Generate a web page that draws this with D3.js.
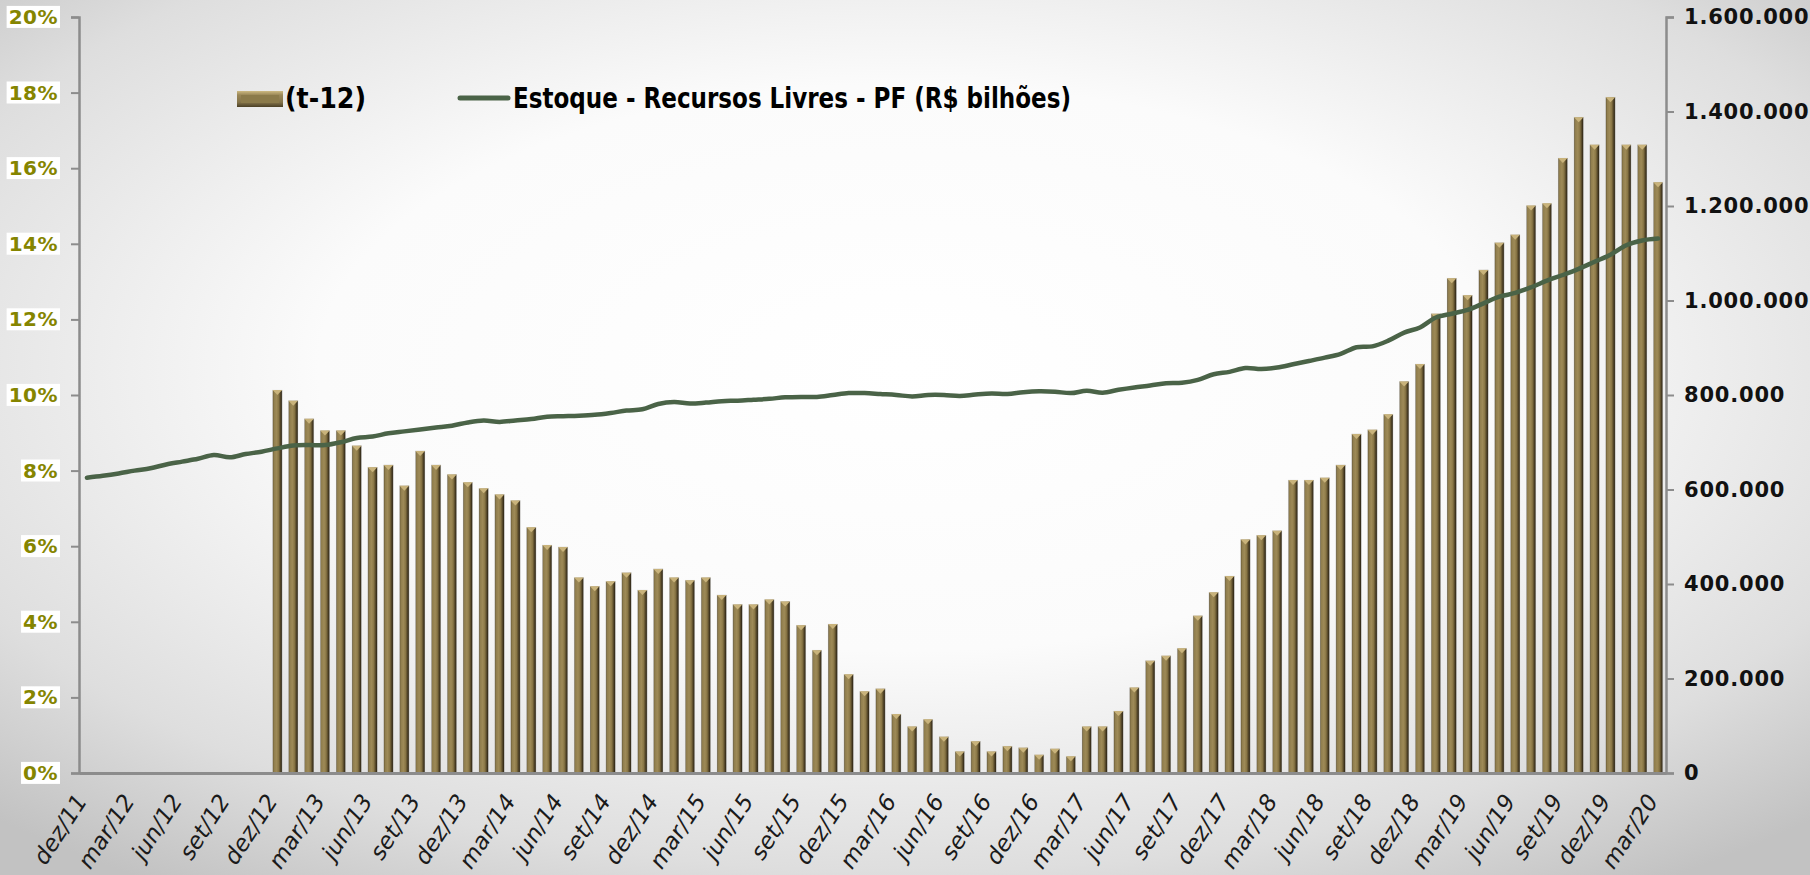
<!DOCTYPE html>
<html>
<head>
<meta charset="utf-8">
<script src="https://cdn.jsdelivr.net/npm/d3@7"></script>
<style>
  body { margin: 0; overflow: hidden; background: #fff; }
  svg { display: block; }
</style>
</head>
<body>
<svg id="chart" width="1810" height="875"></svg>
<script>

// months dez/11 .. mar/20
const categories = [
    'dez/11',
    'jan/12','fev/12','mar/12','abr/12','mai/12','jun/12','jul/12','ago/12','set/12','out/12','nov/12','dez/12',
    'jan/13','fev/13','mar/13','abr/13','mai/13','jun/13','jul/13','ago/13','set/13','out/13','nov/13','dez/13',
    'jan/14','fev/14','mar/14','abr/14','mai/14','jun/14','jul/14','ago/14','set/14','out/14','nov/14','dez/14',
    'jan/15','fev/15','mar/15','abr/15','mai/15','jun/15','jul/15','ago/15','set/15','out/15','nov/15','dez/15',
    'jan/16','fev/16','mar/16','abr/16','mai/16','jun/16','jul/16','ago/16','set/16','out/16','nov/16','dez/16',
    'jan/17','fev/17','mar/17','abr/17','mai/17','jun/17','jul/17','ago/17','set/17','out/17','nov/17','dez/17',
    'jan/18','fev/18','mar/18','abr/18','mai/18','jun/18','jul/18','ago/18','set/18','out/18','nov/18','dez/18',
    'jan/19','fev/19','mar/19','abr/19','mai/19','jun/19','jul/19','ago/19','set/19','out/19','nov/19','dez/19',
    'jan/20','fev/20','mar/20'
];

// (t-12) growth, % - no data before dez/12
const growth = [
    null, null, null, null, null, null, null, null, null, null, null, null,
    10.13, 9.85, 9.37, 9.06, 9.06, 8.66, 8.09, 8.15, 7.60, 8.52, 8.15, 7.90, 7.69,
    7.53, 7.37, 7.21, 6.50, 6.03, 5.98, 5.17, 4.94, 5.07, 5.30, 4.84, 5.40,
    5.17, 5.10, 5.17, 4.71, 4.46, 4.46, 4.59, 4.54, 3.91, 3.25, 3.94, 2.61,
    2.16, 2.23, 1.56, 1.23, 1.42, 0.96, 0.57, 0.84, 0.57, 0.71, 0.67, 0.48,
    0.64, 0.44, 1.23, 1.23, 1.64, 2.26, 2.97, 3.10, 3.30, 4.16, 4.78, 5.21,
    6.18, 6.29, 6.41, 7.75, 7.75, 7.81, 8.15, 8.97, 9.08, 9.49, 10.36, 10.82,
    12.15, 13.09, 12.64, 13.31, 14.03, 14.24, 15.01, 15.07, 16.27, 17.35, 16.62, 17.88,
    16.62, 16.62, 15.63
];

// Estoque - Recursos Livres - PF
const stock = [
    625000,
    629000, 634000, 640000, 645000, 653000, 659000, 665000, 673000, 668000, 675000, 680000, 687000,
    693000, 694000, 694000, 700000, 709000, 712000, 719000, 723000, 727000, 731000, 735000, 742000,
    746000, 743000, 746000, 749000, 754000, 755000, 756000, 758000, 762000, 767000, 770000, 781000,
    785000, 782000, 784000, 787000, 788000, 790000, 792000, 795000, 796000, 796000, 800000, 804000,
    804000, 802000, 800000, 797000, 800000, 800000, 798000, 801000, 803000, 802000, 806000, 808000,
    807000, 804000, 809000, 805000, 811000, 816000, 820000, 825000, 826000, 832000, 844000, 849000,
    857000, 855000, 858000, 865000, 872000, 879000, 887000, 901000, 903000, 915000, 932000, 943000,
    964000, 972000, 980000, 994000, 1008000, 1016000, 1028000, 1042000, 1054000, 1067000, 1082000, 1097000,
    1117000, 1127000, 1131000
];

const pctTicks = [0, 2, 4, 6, 8, 10, 12, 14, 16, 18, 20];
const stockTicks = [0, 200000, 400000, 600000, 800000, 1000000, 1200000, 1400000, 1600000];
const legendLabels = ['(t-12)', 'Estoque - Recursos Livres - PF (R$ bilhões)'];

const plot = {left: 79, right: 1666, top: 17, bottom: 773};
const barColor = '#8b7a4a';
const lineColor = '#4a6347';
const axisColor = '#8c8c8c';
const tickFont = "'Century Gothic', 'DejaVu Sans', sans-serif";

const svg = d3.select('#chart');
const defs = svg.append('defs');

// background
const bg = defs.append('radialGradient').attr('id', 'bg')
    .attr('cx', '50%').attr('cy', '42%').attr('r', '72%');
bg.append('stop').attr('offset', '0%').attr('stop-color', '#ffffff');
bg.append('stop').attr('offset', '45%').attr('stop-color', '#fbfbfb');
bg.append('stop').attr('offset', '80%').attr('stop-color', '#dedede');
bg.append('stop').attr('offset', '100%').attr('stop-color', '#c2c2c2');
svg.append('rect').attr('width', 1810).attr('height', 875).attr('fill', 'url(#bg)');

// bar shading, a column lit from the left
const barGrad = defs.append('linearGradient').attr('id', 'barGrad')
    .attr('x1', '0%').attr('x2', '100%').attr('y1', '0%').attr('y2', '0%');
[['0%', '#4b3f25'], ['12%', '#8f7d4d'], ['40%', '#9e8a57'], ['62%', '#8a7746'],
 ['78%', '#5e4f2d'], ['90%', '#3a301c'], ['100%', '#2b2415']].forEach(function (s) {
    barGrad.append('stop').attr('offset', s[0]).attr('stop-color', s[1]);
});
const swatchGrad = defs.append('linearGradient').attr('id', 'swatchGrad')
    .attr('x1', '0%').attr('x2', '0%').attr('y1', '0%').attr('y2', '100%');
[['0%', '#cdb981'], ['25%', '#9a8757'], ['70%', '#85744a'], ['100%', '#4a3f25']].forEach(function (s) {
    swatchGrad.append('stop').attr('offset', s[0]).attr('stop-color', s[1]);
});

const x = d3.scaleBand().domain(categories).range([plot.left, plot.right]).padding(0);
const yL = d3.scaleLinear().domain([0, 20]).range([plot.bottom, plot.top]);
const yR = d3.scaleLinear().domain([0, 1600000]).range([plot.bottom, plot.top]);

const ptBR = d3.formatLocale({decimal: ',', thousands: '.', grouping: [3], currency: ['R$ ', '']});
const fmtStock = ptBR.format(',.0f');

const bw = x.bandwidth();
const barW = bw * 0.6;

// bars
const barData = categories.map(function (c, i) { return {cat: c, v: growth[i]}; })
    .filter(function (d) { return d.v != null; });

const bars = svg.append('g').attr('class', 'bars')
    .selectAll('g').data(barData).enter().append('g');

bars.append('rect')
    .attr('x', function (d) { return x(d.cat) + (bw - barW) / 2; })
    .attr('y', function (d) { return yL(d.v); })
    .attr('width', barW)
    .attr('height', function (d) { return yL(0) - yL(d.v); })
    .attr('fill', 'url(#barGrad)')
    .attr('stroke', 'rgba(225,225,225,0.7)')
    .attr('stroke-width', 0.6);

// bevelled top
bars.append('path')
    .attr('d', function (d) {
        var x0 = x(d.cat) + (bw - barW) / 2, y0 = yL(d.v);
        return 'M' + x0 + ',' + y0 + 'L' + (x0 + barW) + ',' + y0 + 'L' + (x0 + barW / 2) + ',' + (y0 + 5) + 'Z';
    })
    .attr('fill', '#c9b37b');

// line
const line = d3.line()
    .x(function (d) { return x(d.cat) + bw / 2; })
    .y(function (d) { return yR(d.v); })
    .curve(d3.curveCatmullRom.alpha(0.5));

svg.append('path')
    .datum(categories.map(function (c, i) { return {cat: c, v: stock[i]}; }))
    .attr('d', line)
    .attr('fill', 'none')
    .attr('stroke', lineColor)
    .attr('stroke-width', 4.5)
    .attr('stroke-linejoin', 'round')
    .attr('stroke-linecap', 'round');

// left axis
const gL = svg.append('g')
    .attr('transform', 'translate(' + plot.left + ',0)')
    .call(d3.axisLeft(yL).tickValues(pctTicks).tickSize(8).tickPadding(13)
        .tickFormat(function (d) { return d + '%'; }));
gL.select('.domain').attr('stroke', axisColor).attr('stroke-width', 2.5);
gL.selectAll('.tick line').attr('stroke', axisColor).attr('stroke-width', 2);
gL.selectAll('.tick text')
    .attr('fill', '#858500')
    .style('font-family', tickFont)
    .style('font-weight', 'bold')
    .style('font-size', '20px')
    .style('letter-spacing', '0.5px');
gL.selectAll('.tick').each(function () {
    var t = d3.select(this).select('text');
    var b = t.node().getBBox();
    d3.select(this).insert('rect', 'text')
        .attr('x', b.x - 2).attr('y', b.y + 1)
        .attr('width', b.width + 4).attr('height', b.height - 2)
        .attr('fill', '#ffffff');
});

// right axis
const gR = svg.append('g')
    .attr('transform', 'translate(' + plot.right + ',0)')
    .call(d3.axisRight(yR).tickValues(stockTicks).tickSize(8).tickPadding(10).tickFormat(fmtStock));
gR.select('.domain').attr('stroke', axisColor).attr('stroke-width', 2.5);
gR.selectAll('.tick line').attr('stroke', axisColor).attr('stroke-width', 2);
gR.selectAll('.tick text')
    .attr('fill', '#111')
    .style('font-family', tickFont)
    .style('font-weight', 'bold')
    .style('font-size', '21px')
    .style('letter-spacing', '0.8px');

// bottom axis
const gX = svg.append('g')
    .attr('transform', 'translate(0,' + plot.bottom + ')')
    .call(d3.axisBottom(x).tickSize(0)
        .tickValues(categories.filter(function (d, i) { return i % 3 === 0; })));
gX.select('.domain').attr('stroke', axisColor).attr('stroke-width', 3);
gX.selectAll('.tick text')
    .attr('x', 0).attr('y', 0).attr('dy', 0)
    .attr('transform', 'translate(1,28) rotate(-57)')
    .attr('fill', '#1a1a1a')
    .style('text-anchor', 'end')
    .style('font-family', tickFont)
    .style('font-style', 'italic')
    .style('font-size', '23px');

// legend
const legend = svg.append('g').attr('class', 'legend');
legend.append('rect')
    .attr('x', 237).attr('y', 91).attr('width', 46).attr('height', 16)
    .attr('fill', 'url(#swatchGrad)');
legend.append('rect')
    .attr('x', 241).attr('y', 95).attr('width', 38).attr('height', 8)
    .attr('fill', barColor);
legend.append('line')
    .attr('x1', 460).attr('x2', 508).attr('y1', 98).attr('y2', 98)
    .attr('stroke', lineColor).attr('stroke-width', 5).attr('stroke-linecap', 'round');

const legendFont = "'Liberation Sans Narrow', 'DejaVu Sans Condensed', 'Arial Narrow', sans-serif";
legend.append('text')
    .attr('x', 285).attr('y', 108)
    .attr('textLength', 81).attr('lengthAdjust', 'spacingAndGlyphs')
    .style('font-family', legendFont).style('font-weight', 'bold').style('font-size', '28px')
    .attr('fill', '#000')
    .text(legendLabels[0]);
legend.append('text')
    .attr('x', 513).attr('y', 108)
    .attr('textLength', 558).attr('lengthAdjust', 'spacingAndGlyphs')
    .style('font-family', legendFont).style('font-weight', 'bold').style('font-size', '28px')
    .attr('fill', '#000')
    .text(legendLabels[1]);

</script>
</body>
</html>
